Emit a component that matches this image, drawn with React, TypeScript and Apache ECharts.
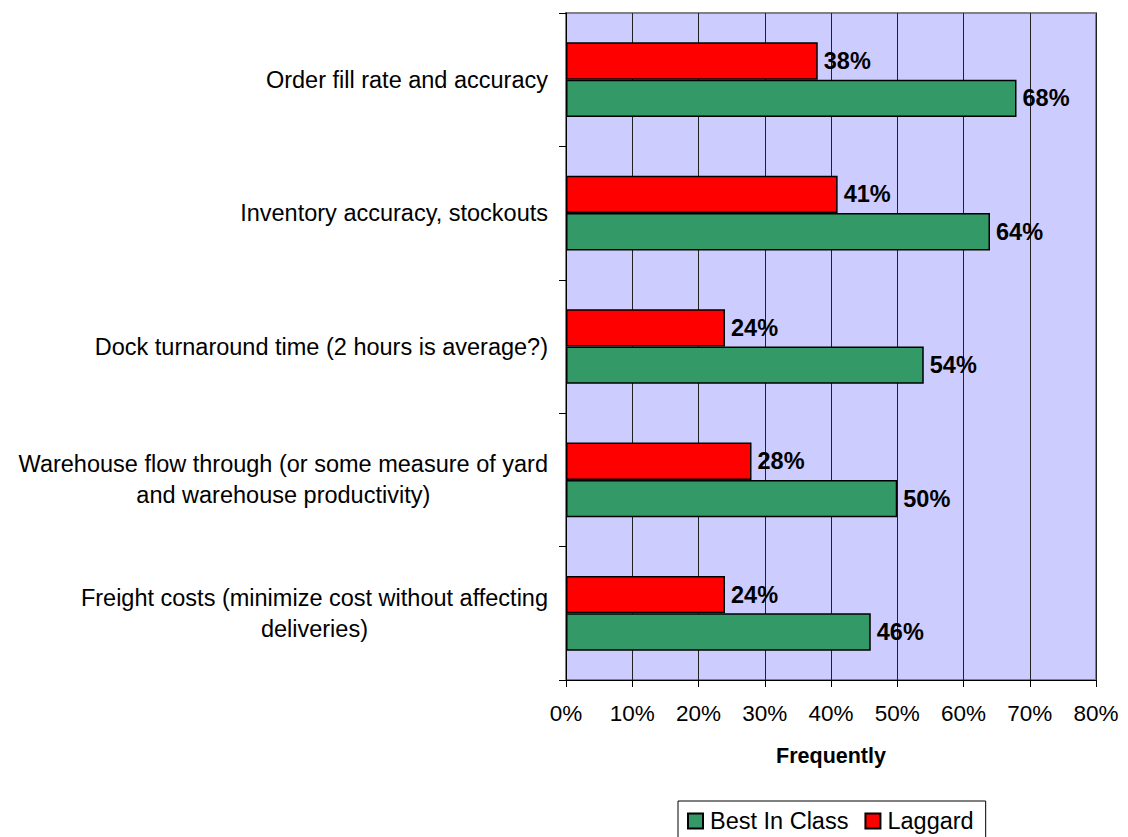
import React, { useEffect, useRef } from "react";
import * as echarts from "echarts";

// Performance measures, listed top to bottom
const categories: string[] = [
  "Order fill rate and accuracy",
  "Inventory accuracy, stockouts",
  "Dock turnaround time (2 hours is average?)",
  "Warehouse flow through (or some measure of yard\nand warehouse productivity)",
  "Freight costs (minimize cost without affecting\ndeliveries)",
];

// Share of respondents measuring "frequently", in percent
const bestInClass: number[] = [68, 64, 54, 50, 46];
const laggard: number[] = [38, 41, 24, 28, 24];

const seriesNames: string[] = ["Best In Class", "Laggard"];

const FONT = "'Liberation Sans', Arial, Helvetica, sans-serif";
const W = 1128;
const H = 860;

export default function App() {
  const ref = useRef<HTMLDivElement>(null);

  useEffect(() => {
    if (!ref.current) return;
    const chart = echarts.init(ref.current, undefined, { renderer: "svg" });

    const barLabel = {
      show: true,
      position: "right" as const,
      distance: 6,
      formatter: "{c}%",
      color: "#000",
      fontFamily: FONT,
      fontSize: 23.5,
      fontWeight: "bold" as const,
    };

    chart.setOption({
      animation: false,
      backgroundColor: "#fff",
      grid: {
        left: 566,
        right: W - 1096,
        top: 13,
        bottom: H - 680,
        containLabel: false,
        outerBoundsMode: "none",
        show: true,
        backgroundColor: "#CCCCFF",
        borderColor: "#808080",
        borderWidth: 2,
      },
      legend: {
        data: seriesNames,
        left: 678,
        top: 801,
        orient: "horizontal",
        icon: "rect",
        itemWidth: 15,
        itemHeight: 15,
        itemGap: 16,
        padding: [8, 12, 14, 9],
        borderColor: "#000",
        borderWidth: 1,
        backgroundColor: "#fff",
        textStyle: { fontFamily: FONT, fontSize: 23.5, color: "#000", padding: [0, 0, 0, 2] },
      },
      xAxis: {
        type: "value",
        min: 0,
        max: 80,
        interval: 10,
        name: "Frequently",
        nameLocation: "middle",
        nameGap: 65,
        nameTextStyle: {
          fontFamily: FONT,
          fontSize: 21.5,
          fontWeight: "bold",
          color: "#000",
        },
        axisLine: { show: true, lineStyle: { color: "#000", width: 1 } },
        axisTick: { show: true, length: 7, lineStyle: { color: "#000" } },
        axisLabel: {
          formatter: "{value}%",
          margin: 22,
          fontFamily: FONT,
          fontSize: 22.5,
          color: "#000",
        },
        splitLine: { show: true, lineStyle: { color: "#222", width: 1 } },
      },
      yAxis: {
        type: "category",
        data: categories,
        inverse: true,
        axisLine: { show: true, lineStyle: { color: "#000", width: 1 } },
        axisTick: { show: true, length: 7, lineStyle: { color: "#000" } },
        axisLabel: {
          margin: 18,
          fontFamily: FONT,
          fontSize: 23.5,
          color: "#000",
          formatter: (v: string) =>
            v
              .split("\n")
              .map((line) => `{c|${line}}`)
              .join("\n"),
          rich: {
            c: {
              align: "center",
              fontFamily: FONT,
              fontSize: 23.5,
              lineHeight: 31,
              color: "#000",
            },
          },
        },
        splitLine: { show: false },
      },
      series: [
        {
          name: seriesNames[1],
          type: "bar",
          data: laggard,
          barGap: "0%",
          barCategoryGap: "44%",
          itemStyle: { color: "#FF0000", borderColor: "#000", borderWidth: 1.5 },
          label: barLabel,
        },
        {
          name: seriesNames[0],
          type: "bar",
          data: bestInClass,
          barGap: "0%",
          barCategoryGap: "44%",
          itemStyle: { color: "#339966", borderColor: "#000", borderWidth: 1.5 },
          label: barLabel,
        },
      ],
    });

    return () => chart.dispose();
  }, []);

  return (
    <div
      ref={ref}
      style={{ position: "fixed", left: 0, top: 0, width: W, height: H }}
    />
  );
}
